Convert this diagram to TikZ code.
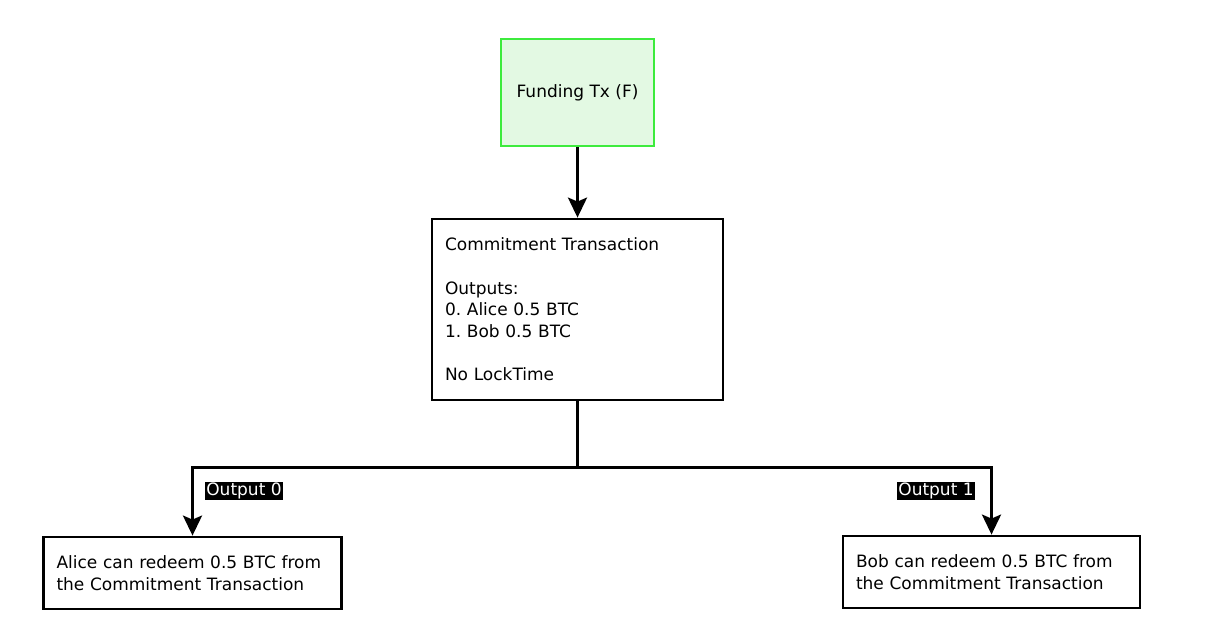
\documentclass[tikz,border=0pt]{standalone}
\usepackage{fontspec}
\setmainfont{DejaVu Sans}
\usetikzlibrary{arrows.meta}
\definecolor{fgreen}{HTML}{3DEB3D}
\definecolor{ffill}{HTML}{E3F9E3}
\tikzset{
  box/.style={draw=black, line width=2.8pt, fill=white, inner sep=0pt, font=\fontsize{17}{21.7}\selectfont\frenchspacing},
  txbox/.style={box, align=left, inner xsep=13pt},
  conn/.style={line width=3pt, draw=black},
  arr/.style={conn, -{Stealth[length=20pt,width=19pt,inset=4pt]}},
  outlabel/.style={fill=black, text=white, inner sep=1pt, font=\fontsize{17}{20}\selectfont}
}
\begin{document}
\begin{tikzpicture}[x=1pt,y=-1pt]
\useasboundingbox (0,0) rectangle (1206,628);
\node[box, draw=fgreen, fill=ffill, minimum width=153pt, minimum height=107pt] (F) at (577.5,92.5) {Funding Tx (F)};
\node[txbox, text width=265pt, minimum height=181pt] (C) at (577.5,309.5) {Commitment Transaction\\[21.7pt]Outputs:\\0. Alice 0.5 BTC\\1. Bob 0.5 BTC\\[21.7pt]No LockTime};
\node[txbox, text width=272pt, minimum height=72pt] (A) at (192.5,573) {Alice can redeem 0.5 BTC from\\the Commitment Transaction};
\node[txbox, text width=271pt, minimum height=72pt] (B) at (991.5,572) {Bob can redeem 0.5 BTC from\\the Commitment Transaction};
\draw[arr] (F) -- (C);
\coordinate (J) at (577.5,467.5);
\draw[conn] (C.south) -- (J);
\draw[arr] (J) -| (A.north);
\draw[arr] (J) -| (B.north);
\node[outlabel] (L0) at (244,491) {Output 0};
\node[outlabel] (L1) at (936,491) {Output 1};
\end{tikzpicture}
\end{document}
